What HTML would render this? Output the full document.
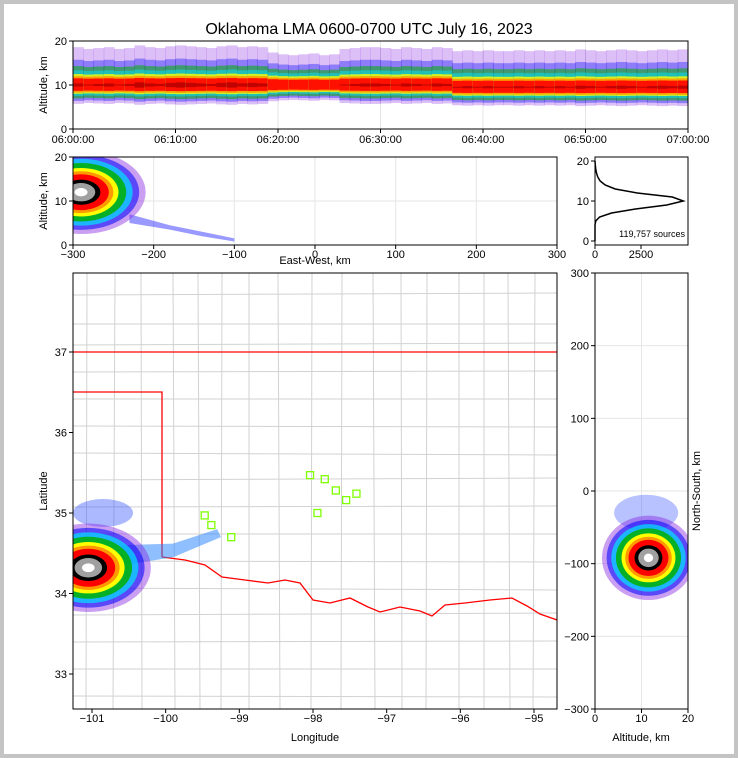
<!DOCTYPE html>
<html><head><meta charset="utf-8">
<style>
html,body{margin:0;padding:0;background:#fff}
#frame{position:absolute;left:0;top:0;width:730px;height:750px;border:4px solid #c4c4c4;background:#fff}
svg{position:absolute;left:0;top:0}
text{font-family:"Liberation Sans",sans-serif;fill:#000}
</style></head>
<body>
<div id="frame"></div>
<svg id="s" width="738" height="758"></svg>
<script>
// ---- data ----
const timeTicks=["06:00:00","06:10:00","06:20:00","06:30:00","06:40:00","06:50:00","07:00:00"];
const minuteIntensity=[0.9,0.8,0.85,0.9,0.8,0.85,1,0.9,0.85,0.95,1,0.95,0.9,0.85,0.95,1,0.9,0.95,0.9,0.6,0.5,0.45,0.5,0.55,0.45,0.5,0.8,0.85,0.9,0.9,0.85,0.8,0.9,0.85,0.8,0.9,0.85,0.8,0.85,0.8,0.85,0.8,0.8,0.85,0.8,0.85,0.8,0.85,0.8,0.9,0.85,0.8,0.85,0.9,0.85,0.8,0.85,0.9,0.85,0.9];
const minuteCoreAlt=[10,10,10,10,10,10,10,10,10,10,10,10,10,10,10,10,10,10,10,10,10,10,10,10,10,10,10,10,10,10,10,10,10,10,10,10,10,9.5,9.5,9.5,9.5,9.5,9.5,9.5,9.5,9.5,9.5,9.5,9.5,9.5,9.5,9.5,9.5,9.5,9.5,9.5,9.5,9.5,9.5,9.5];
const ewTicks=[-300,-200,-100,0,100,200,300];
const altTicks=[0,10,20];
const histAlt=[0,1,2,3,4,5,6,7,8,9,10,11,12,13,14,15,16,17,18,19,20];
const histCount=[0,0,0,0,0,40,250,900,2200,3900,4800,4200,2300,1100,550,280,150,80,40,15,0];
const histTicks=[0,2500];
const lonTicks=[-101,-100,-99,-98,-97,-96,-95];
const latTicks=[33,34,35,36,37];
const nsTicks=[300,200,100,0,-100,-200,-300];
const altTicks2=[0,10,20];
const stationLon=[-98.04,-97.84,-97.94,-99.47,-99.38,-99.11,-97.69,-97.55,-97.41];
const stationLat=[35.47,35.42,35.00,34.97,34.85,34.70,35.28,35.16,35.24];
const blobColors=["#8a2be2","#0000ff","#00e5ff","#00b000","#ffff00","#ff9900","#ff0000","#000000","#a0a0a0","#ffffff"];
const blobOpacity=[0.45,0.55,0.7,0.85,1,1,1,1,1,1];
const blobScale=[1,0.9,0.8,0.7,0.58,0.5,0.43,0.3,0.22,0.1];
// ---- helpers ----
const S=document.getElementById('s');const NS='http://www.w3.org/2000/svg';
function el(tag,a,p){const e=document.createElementNS(NS,tag);for(const k in a)e.setAttribute(k,a[k]);(p||S).appendChild(e);return e;}
function lin(d0,d1,r0,r1){return v=>r0+(v-d0)*(r1-r0)/(d1-d0);}
function clip(id,x,y,w,h){const c=el('clipPath',{id:id});el('rect',{x:x,y:y,width:w,height:h},c);}
function txt(x,y,s,anchor,size,rot){const t=el('text',{x:x,y:y,'text-anchor':anchor||'middle','font-size':size||11});if(rot)t.setAttribute('transform','rotate(-90 '+x+' '+y+')');t.textContent=s;return t;}
let t=txt(369,34,"Oklahoma LMA 0600-0700 UTC July 16, 2023","middle",16);


// ===== Top panel =====
const xT=lin(0,60,73,688), yA=lin(0,20,129,41);
clip('c1',73,41,615,88);
let g1=el('g',{'clip-path':'url(#c1)'});
for(let i=1;i<6;i++){el('line',{x1:xT(i*10),x2:xT(i*10),y1:41,y2:129,stroke:'#e6e6e6'},g1);}
el('line',{x1:73,x2:688,y1:yA(10),y2:yA(10),stroke:'#e6e6e6'},g1);
const bandColors=["#8a2be2","#0000ff","#00b000","#00e5ff","#ffff00","#ff9900","#ff0000","#b00000"];
const bandOp=[0.3,0.35,0.55,0.5,0.8,0.9,0.9,0.8];
const upK=[9,6,4.5,3.5,2.6,2.1,1.6,0.6], dnK=[4.5,3.8,3.2,2.6,2.1,1.8,1.4,0.6];
minuteIntensity.forEach((v,i)=>{
  const c=minuteCoreAlt[i];
  for(let k=0;k<8;k++){
    const s=(k<7)?(0.55+0.45*v):Math.max(0,v-0.75)*4;
    const top=c+upK[k]*s, bot=c-dnK[k]*s;
    const r=el('rect',{x:xT(i),y:yA(top),width:xT(i+1)-xT(i)+0.5,height:Math.max(0,yA(bot)-yA(top)),fill:bandColors[k],opacity:bandOp[k]},g1);
    
  }
});
el('rect',{x:73,y:41,width:615,height:88,fill:'none',stroke:'#000'});
altTicks.forEach(v=>{el('line',{x1:69,x2:73,y1:yA(v),y2:yA(v),stroke:'#000'});txt(67,yA(v)+4,v,'end');});
timeTicks.forEach((s,i)=>{el('line',{x1:xT(i*10),x2:xT(i*10),y1:129,y2:133,stroke:'#000'});txt(xT(i*10),143,s);});
t=txt(47,85,"Altitude, km","middle",11,true);

// ===== East-West vs altitude =====
const xE=lin(-300,300,73,557), yE=lin(0,20,245,157);
clip('c2',73,157,484,88);
let g2=el('g',{'clip-path':'url(#c2)'});
ewTicks.forEach(v=>el('line',{x1:xE(v),x2:xE(v),y1:157,y2:245,stroke:'#e6e6e6'},g2));
el('line',{x1:73,x2:557,y1:yE(10),y2:yE(10),stroke:'#e6e6e6'},g2);
const tailEW=[[-230,7],[-180,4.5],[-140,3],[-100,1.5],[-100,0.8],[-140,2],[-180,3.5],[-230,5]];
let tp=el('polygon',{points:tailEW.map(p=>xE(p[0])+','+yE(p[1])).join(' '),fill:'#0000ff',opacity:0.4},g2);

blobColors.forEach((c,k)=>{const s=blobScale[k];
  const e=el('ellipse',{cx:xE(-290),cy:yE(12),rx:80*s*0.807,ry:9.5*s*4.4,fill:c,opacity:blobOpacity[k]},g2);
  });
el('rect',{x:73,y:157,width:484,height:88,fill:'none',stroke:'#000'});
altTicks.forEach(v=>{el('line',{x1:69,x2:73,y1:yE(v),y2:yE(v),stroke:'#000'});txt(67,yE(v)+4,v,'end');});
ewTicks.forEach(v=>{el('line',{x1:xE(v),x2:xE(v),y1:245,y2:249,stroke:'#000'});txt(xE(v),258,v<0?'−'+(-v):v);});
t=txt(47,201,"Altitude, km","middle",11,true);
t=txt(315,264,"East-West, km");

// ===== Histogram =====
const xH=lin(0,2500,595,641), yH=lin(0,20,241,161);
let hp=el('polyline',{points:histCount.map((c,i)=>xH(c)+','+yH(histAlt[i])).join(' '),fill:'none',stroke:'#000','stroke-width':1.5});

el('rect',{x:595,y:157,width:93,height:88,fill:'none',stroke:'#000'});
altTicks.forEach(v=>{el('line',{x1:591,x2:595,y1:yH(v),y2:yH(v),stroke:'#000'});txt(589,yH(v)+4,v,'end');});
histTicks.forEach(v=>{el('line',{x1:xH(v),x2:xH(v),y1:245,y2:249,stroke:'#000'});txt(xH(v),258,v);});
t=txt(685,237,"119,757 sources","end",9);

// ===== Map =====
const xL=lin(-101,-95,92,534), yL=lin(37,33,352,674);
clip('c3',73,273,484,436);
let g3=el('g',{'clip-path':'url(#c3)'});
for(let x=73+14;x<557;x+=24+((x*7)%11)) el('line',{x1:x,x2:x+((x*3)%5)-2,y1:273,y2:709,stroke:'#d2d2d2'},g3);
for(let y=273+22;y<709;y+=21+((y*5)%9)) el('line',{x1:73,x2:557,y1:y,y2:y+((y*3)%5)-2,stroke:'#d2d2d2'},g3);
let sb=el('polyline',{points:[[73,392],[162,392],[162,557]].map(p=>p.join(',')).join(' '),fill:'none',stroke:'#f00','stroke-width':1.3},g3);

sb=el('line',{x1:73,x2:557,y1:352,y2:352,stroke:'#f00','stroke-width':1.3},g3);

const redRiver=[[162,557],[185,560],[205,565],[222,577],[245,580],[268,583],[285,580],[300,583],[313,600],[330,603],[350,598],[368,607],[380,612],[400,607],[420,611],[432,616],[445,605],[465,603],[490,600],[512,598],[527,606],[540,614],[557,620]];
sb=el('polyline',{points:redRiver.map(p=>p.join(',')).join(' '),fill:'none',stroke:'#f00','stroke-width':1.3},g3);

const tailMap=[[-100.6,34.6],[-99.9,34.62],[-99.3,34.8],[-99.25,34.7],[-99.9,34.45],[-100.6,34.35]];
tp=el('polygon',{points:tailMap.map(p=>xL(p[0])+','+yL(p[1])).join(' '),fill:'#2080ff',opacity:0.5},g3);

tp=el('ellipse',{cx:xL(-100.85),cy:yL(35.0),rx:30,ry:14,fill:'#3050ff',opacity:0.4},g3);

blobColors.forEach((c,k)=>{const s=blobScale[k];
  const e=el('ellipse',{cx:xL(-101.05),cy:yL(34.32),rx:0.85*s*73.6,ry:0.55*s*80.5,fill:c,opacity:blobOpacity[k]},g3);
  });
stationLon.forEach((lo,i)=>{const r=el('rect',{x:xL(lo)-3.5,y:yL(stationLat[i])-3.5,width:7,height:7,fill:'none',stroke:'#7fff00','stroke-width':1.3},g3);
  });
el('rect',{x:73,y:273,width:484,height:436,fill:'none',stroke:'#000'});
latTicks.forEach(v=>{el('line',{x1:69,x2:73,y1:yL(v),y2:yL(v),stroke:'#000'});txt(67,yL(v)+4,v,'end');});
lonTicks.forEach(v=>{el('line',{x1:xL(v),x2:xL(v),y1:709,y2:713,stroke:'#000'});txt(xL(v),722,'−'+(-v));});
t=txt(47,491,"Latitude","middle",11,true);
t=txt(315,741,"Longitude");

// ===== Altitude vs North-South =====
const xR=lin(0,20,595,688), yR=lin(300,-300,273,709);
clip('c4',595,273,93,436);
let g4=el('g',{'clip-path':'url(#c4)'});
altTicks2.forEach(v=>el('line',{x1:xR(v),x2:xR(v),y1:273,y2:709,stroke:'#e6e6e6'},g4));
nsTicks.forEach(v=>el('line',{x1:595,x2:688,y1:yR(v),y2:yR(v),stroke:'#e6e6e6'},g4));
tp=el('ellipse',{cx:xR(11),cy:yR(-30),rx:32,ry:18,fill:'#3050ff',opacity:0.35},g4);

blobColors.forEach((c,k)=>{const s=blobScale[k];
  const e=el('ellipse',{cx:xR(11.5),cy:yR(-92),rx:10*s*4.65,ry:58*s*0.727,fill:c,opacity:blobOpacity[k]},g4);
  });
el('rect',{x:595,y:273,width:93,height:436,fill:'none',stroke:'#000'});
nsTicks.forEach(v=>{el('line',{x1:591,x2:595,y1:yR(v),y2:yR(v),stroke:'#000'});txt(589,yR(v)+4,v<0?'−'+(-v):v,'end');});
altTicks2.forEach(v=>{el('line',{x1:xR(v),x2:xR(v),y1:709,y2:713,stroke:'#000'});txt(xR(v),722,v);});
t=txt(641,741,"Altitude, km");
t=txt(700,491,"North-South, km","middle",11,true);
</script>
</body></html>
